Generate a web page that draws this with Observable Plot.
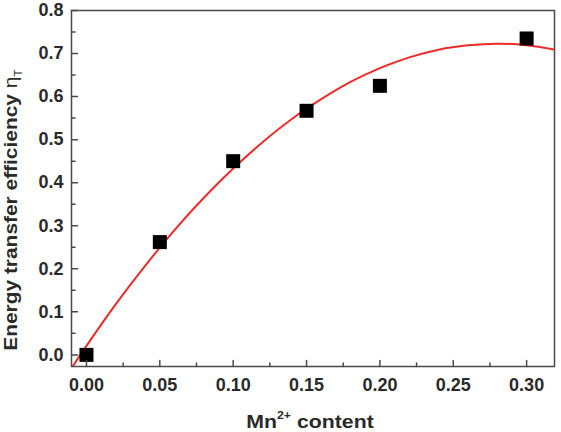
<!DOCTYPE html>
<html>
<head>
<meta charset="utf-8">
<script src="https://cdn.jsdelivr.net/npm/d3@7"></script>
<script src="https://cdn.jsdelivr.net/npm/@observablehq/plot@0.6"></script>
<style>
  html, body { margin: 0; padding: 0; background: #fff; }
  svg text { font-family: "Liberation Sans", Arial, sans-serif; }
</style>
</head>
<body>
<div id="chart"></div>
<script>
// Measured points
const mnContent = [0.00, 0.05, 0.10, 0.15, 0.20, 0.30];
const efficiency = [0.000, 0.262, 0.450, 0.567, 0.625, 0.735];

// Fitted curve
const fitX = [-0.010, 0.000, 0.020, 0.040, 0.060, 0.080, 0.100, 0.120, 0.140, 0.160, 0.180, 0.200, 0.220, 0.240, 0.260, 0.280, 0.300, 0.319];
const fitY = [-0.030, 0.021, 0.118, 0.207, 0.290, 0.365, 0.433, 0.494, 0.548, 0.594, 0.634, 0.666, 0.691, 0.709, 0.719, 0.723, 0.719, 0.709];

// Ticks
const xTicks = [0.00, 0.05, 0.10, 0.15, 0.20, 0.25, 0.30];
const xMinor = [0.025, 0.075, 0.125, 0.175, 0.225, 0.275];
const yTicks = [0.0, 0.1, 0.2, 0.3, 0.4, 0.5, 0.6, 0.7, 0.8];
const yMinor = [0.05, 0.15, 0.25, 0.35, 0.45, 0.55, 0.65, 0.75];

const points = mnContent.map((x, i) => ({x, y: efficiency[i]}));
const fit = fitX.map((x, i) => ({x, y: fitY[i]}));

const axisColor = "#4a4a4a";
const textColor = "#2a2a2a";

// a plain line segment as vector shape (inward tick)
const tickShape = {draw(context, l) { context.moveTo(0, 0); context.lineTo(0, -l); }};
const tickOpts = {stroke: axisColor, strokeWidth: 1.5, shape: tickShape, anchor: "start"};

const svg = Plot.plot({
  width: 561,
  height: 432,
  marginLeft: 71,
  marginRight: 7,
  marginTop: 10,
  marginBottom: 66,
  style: {fontFamily: "Liberation Sans, Arial, sans-serif", background: "#fff"},
  x: {domain: [-0.0102, 0.319]},
  y: {domain: [-0.027, 0.8]},
  marks: [
    Plot.line(fit, {x: "x", y: "y", stroke: "#ee2a2a", strokeWidth: 2, curve: "natural", clip: true}),
    Plot.dot(points, {x: "x", y: "y", symbol: "square", r: 7.9, fill: "#000", stroke: "none"}),
    // tick labels
    Plot.axisX(xTicks, {anchor: "bottom", tickSize: 0, tickPadding: 12,
      tickFormat: d3.format(".2f"), fontSize: 18, fontWeight: "bold", fill: textColor, label: null}),
    Plot.axisY(yTicks, {anchor: "left", tickSize: 0, tickPadding: 8,
      tickFormat: d3.format(".1f"), fontSize: 18, fontWeight: "bold", fill: textColor, label: null}),
    // inward ticks
    Plot.vector(xTicks, {x: d => d, frameAnchor: "bottom", length: 6, rotate: 0, ...tickOpts}),
    Plot.vector(xMinor, {x: d => d, frameAnchor: "bottom", length: 3.5, rotate: 0, ...tickOpts}),
    Plot.vector(yTicks, {y: d => d, frameAnchor: "left", length: 6, rotate: 90, ...tickOpts}),
    Plot.vector(yMinor, {y: d => d, frameAnchor: "left", length: 3.5, rotate: 90, ...tickOpts}),
    Plot.frame({stroke: axisColor, strokeWidth: 1.5})
  ]
});

const s = d3.select(svg);
// x axis title
const xt = s.append("text")
  .attr("transform", "translate(310,428) scale(1.12,1)")
  .attr("text-anchor", "middle")
  .attr("fill", textColor)
  .attr("font-size", 19).attr("font-weight", "bold");
xt.append("tspan").text("Mn");
xt.append("tspan").attr("font-size", 11).attr("dy", -9).text("2+");
xt.append("tspan").attr("dy", 9).text(" content");

// y axis title
const yt = s.append("text")
  .attr("transform", "translate(17,210) rotate(-90) scale(1.1,1)")
  .attr("text-anchor", "middle")
  .attr("fill", textColor)
  .attr("font-size", 19).attr("font-weight", "bold");
yt.append("tspan").text("Energy transfer efficiency ");
yt.append("tspan").attr("font-weight", "normal").text("η");
yt.append("tspan").attr("font-size", 11).attr("font-weight", "normal").attr("dy", 5).text("T");

document.getElementById("chart").appendChild(svg);
</script>
</body>
</html>
